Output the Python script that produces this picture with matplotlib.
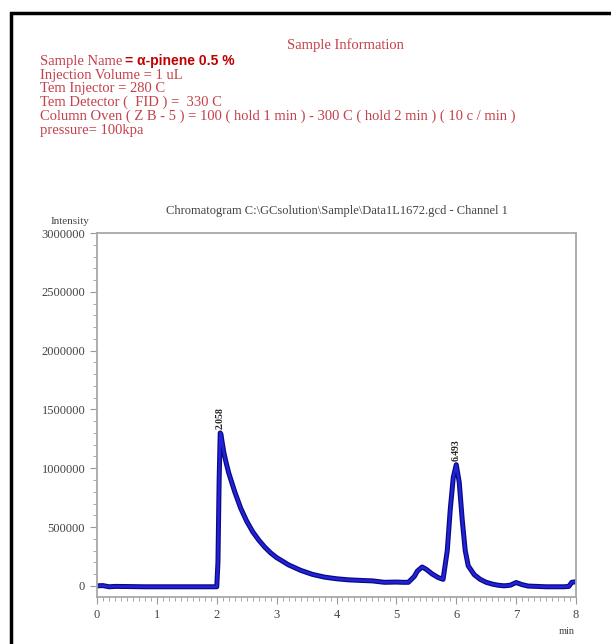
import matplotlib.pyplot as plt
from matplotlib.ticker import MultipleLocator
from matplotlib.patches import Rectangle

# === Data ===
time_min = [0.0, 0.1, 0.2, 0.3, 0.5, 0.8, 1.2, 1.6, 2.0, 2.02, 2.04, 2.058,
            2.07, 2.09, 2.12, 2.16, 2.2, 2.3, 2.4, 2.5, 2.6, 2.7, 2.8, 2.9,
            3.0, 3.2, 3.4, 3.6, 3.8, 4.0, 4.2, 4.4, 4.6, 4.8, 5.0, 5.1, 5.2,
            5.3, 5.35, 5.43, 5.5, 5.6, 5.7, 5.78, 5.85, 5.9, 5.95, 6.0,
            6.05, 6.1, 6.15, 6.2, 6.3, 6.4, 6.5, 6.6, 6.7, 6.8, 6.9, 7.0,
            7.1, 7.2, 7.5, 7.8, 7.88, 7.93, 8.0]
intensity = [0, 2000, -8000, -5000, -6000, -8000, -8000, -8000, -8000,
             200000, 900000, 1300000, 1290000, 1220000, 1130000, 1040000,
             960000, 800000, 660000, 550000, 460000, 390000, 330000, 280000,
             240000, 178000, 132000, 97000, 74000, 60000, 51000, 46000, 42000,
             30000, 32000, 30000, 30000, 80000, 125000, 160000, 140000,
             100000, 70000, 55000, 300000, 650000, 920000, 1030000, 880000,
             560000, 300000, 170000, 95000, 55000, 30000, 15000, 5000, 0,
             5000, 28000, 10000, -2000, -8000, -8000, -5000, 30000, 35000]

peak_times = [2.058, 6.0]
peak_heights = [1300000, 1030000]
peak_labels = ["2.058", "6.493"]

info_lines = ["Injection Volume = 1 uL",
              "Tem Injector = 280 C",
              "Tem Detector (  FID ) =  330 C",
              "Column Oven ( Z B - 5 ) = 100 ( hold 1 min ) - 300 C ( hold 2 min ) ( 10 c / min )",
              "pressure= 100kpa"]

serif = "Liberation Serif"
red = "#c4404a"
W, H = 611, 644

fig = plt.figure(figsize=(6.11, 6.44), dpi=100)

# outer black frame
fig.patches.append(Rectangle((11 / W, -0.1), 1.2, 1 - 13 / H + 0.1,
                             transform=fig.transFigure, fill=False,
                             edgecolor="black", linewidth=2.5))

# sample information block
fig.text(345 / W, 1 - 45 / H, "Sample Information", family=serif,
         fontsize=10.5, color=red, ha="center", va="center")
name = fig.text(40 / W, 1 - 61 / H, "Sample Name", family=serif,
                fontsize=10.5, color=red, ha="left", va="center")
fig.canvas.draw()
name_right = name.get_window_extent().x1 / W
fig.text(name_right + 3 / W, 1 - 61 / H, "= α-pinene 0.5 %",
         family="Liberation Sans", fontsize=10, fontweight="bold",
         color="#c00000", ha="left", va="center")
for i, line in enumerate(info_lines):
    fig.text(40 / W, 1 - (75 + 13.8 * i) / H, line, family=serif,
             fontsize=10.5, color=red, ha="left", va="center")

# chromatogram
ax = fig.add_axes([97 / W, 47 / H, 479 / W, 364 / H])
ax.plot(time_min, intensity, color="#0a0a80", linewidth=3.6,
        solid_joinstyle="round")
ax.plot(time_min, intensity, color="#2222dd", linewidth=1.8,
        solid_joinstyle="round")

for pt, ph, lab in zip(peak_times, peak_heights, peak_labels):
    ax.annotate(lab, (pt, ph), xytext=(0, 3), textcoords="offset points",
                rotation=90, ha="center", va="bottom", fontsize=7,
                fontweight="bold", family=serif, color="#222222")

ax.set_xlim(0, 8)
ax.set_ylim(-95000, 3000000)
ax.set_yticks([0, 500000, 1000000, 1500000, 2000000, 2500000, 3000000])
ax.set_yticklabels(["0", "500000", "1000000", "1500000", "2000000",
                    "2500000", "3000000"])
ax.xaxis.set_major_locator(MultipleLocator(1))
ax.xaxis.set_minor_locator(MultipleLocator(0.1))
ax.yaxis.set_minor_locator(MultipleLocator(100000))

for s in ax.spines.values():
    s.set_color("#a8a8a8")
    s.set_linewidth(1.3)
ax.tick_params(which="both", colors="#999999", labelcolor="#444444",
               labelsize=9)
ax.tick_params(which="major", length=5)
ax.tick_params(which="minor", length=3)
for lab in ax.get_xticklabels() + ax.get_yticklabels():
    lab.set_family(serif)

ax.set_title("Chromatogram C:\\GCsolution\\Sample\\Data1L1672.gcd - Channel 1",
             family=serif, fontsize=9, color="#444444", pad=14)
fig.text(70 / W, 1 - 221 / H, "Intensity", family=serif, fontsize=8,
         color="#444444", ha="center", va="center")
fig.text(567 / W, 1 - 632 / H, "min", family=serif, fontsize=7.5,
         color="#444444", ha="center", va="center")

fig.savefig("out.png", dpi=100)
